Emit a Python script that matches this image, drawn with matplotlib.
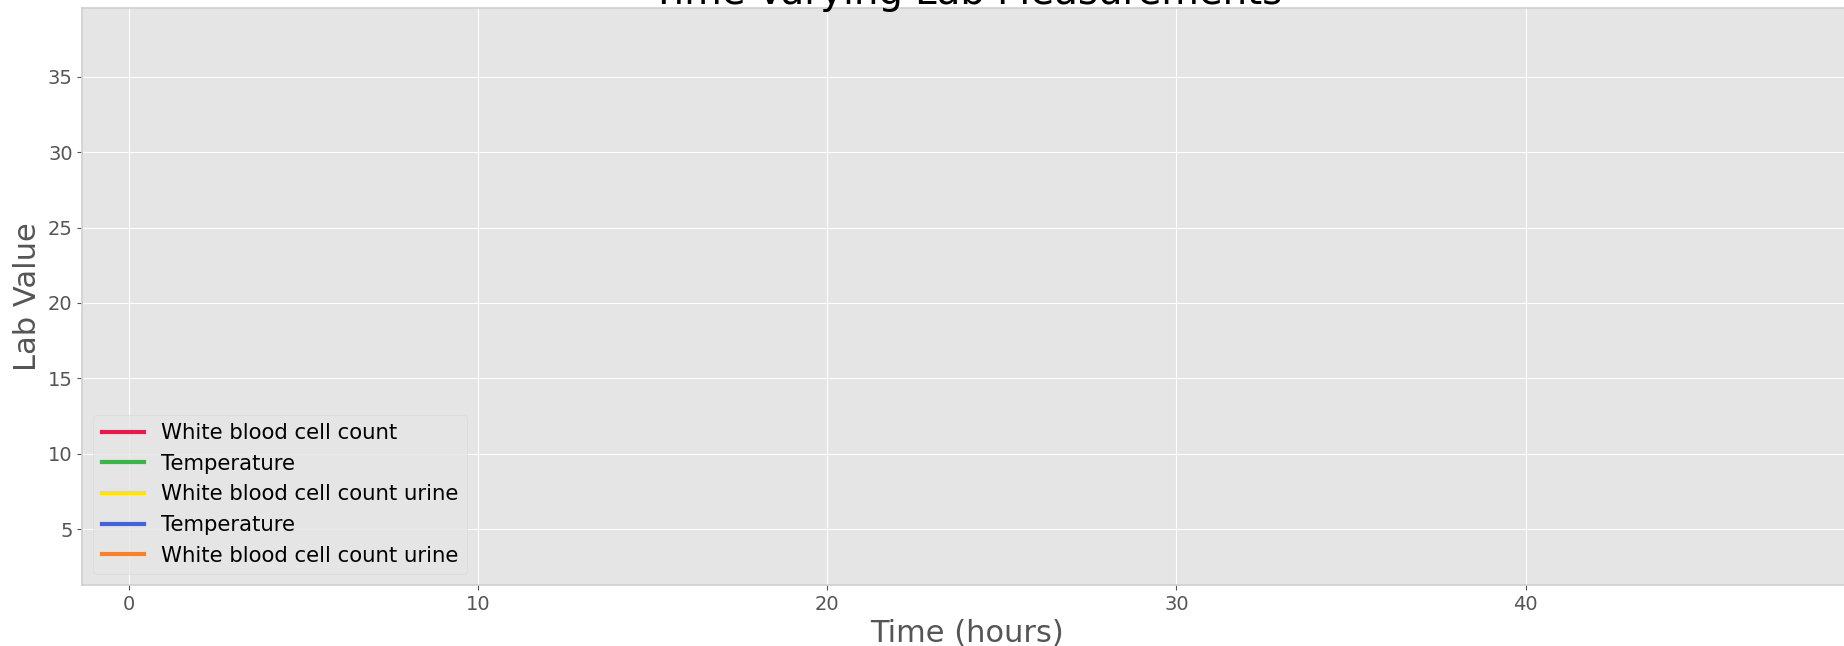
import matplotlib
matplotlib.use("Agg")
import matplotlib.pyplot as plt

plt.style.use("ggplot")

# lab series (no measurements fall inside the plotted window)
lab_names = [
    "White blood cell count",
    "Temperature",
    "White blood cell count urine",
    "Temperature",
    "White blood cell count urine",
]
lab_colors = ["#e6194b", "#3cb44b", "#ffe119", "#4363d8", "#f58231"]
lab_hours = [[], [], [], [], []]
lab_values = [[], [], [], [], []]

fig = plt.figure(figsize=(18.44, 6.46), dpi=100)
ax = fig.add_axes([0.0447, 0.0947, 0.9595, 0.8923])

for name, color, hrs, vals in zip(lab_names, lab_colors, lab_hours, lab_values):
    ax.plot(hrs, vals, color=color, linewidth=3, label=name)

ax.set_xlim(-1.33, 49.34)
ax.set_ylim(1.31, 39.53)
ax.set_xticks([0, 10, 20, 30, 40])
ax.set_yticks([5, 10, 15, 20, 25, 30, 35])

for side in ax.spines.values():
    side.set_color("#cfcfcf")
    side.set_linewidth(1.2)

ax.tick_params(labelsize=14, colors="#555555")
ax.set_xlabel("Time (hours)", fontsize=22, color="#555555")
ax.set_ylabel("Lab Value", fontsize=22, color="#555555")
ax.set_title("Time-Varying Lab Measurements", fontsize=27.8, color="black",
             y=1.007, pad=0)

leg = ax.legend(loc="lower left", fontsize=15.3, facecolor="#e5e5e5",
                edgecolor="#d8d8d8", framealpha=0.8)
for txt in leg.get_texts():
    txt.set_color("black")

fig.savefig("out.png", dpi=100)
